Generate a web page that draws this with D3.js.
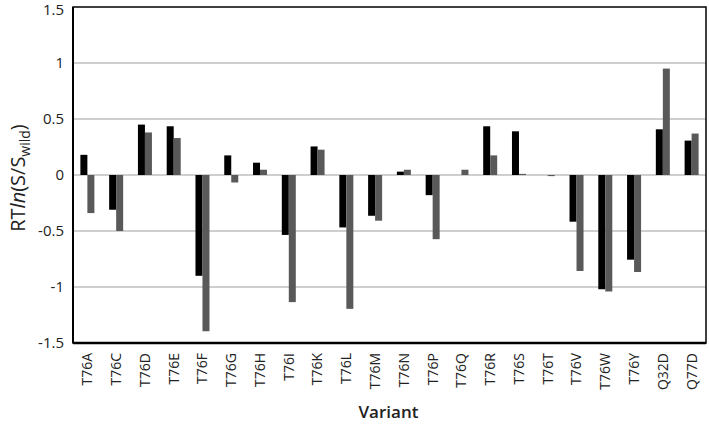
<!DOCTYPE html>
<html><head><meta charset="utf-8">
<script src="https://cdn.jsdelivr.net/npm/d3@7"></script>
<style>body{margin:0;background:#fff;} text{font-family:"Open Sans","Noto Sans",sans-serif;}</style>
</head><body><svg id="c" width="709" height="424"></svg>
<script>
const categories = ["T76A","T76C","T76D","T76E","T76F","T76G","T76H","T76I","T76K","T76L","T76M","T76N","T76P","T76Q","T76R","T76S","T76T","T76V","T76W","T76Y","Q32D","Q77D"];
const series1 = [0.18,-0.31,0.45,0.435,-0.90,0.175,0.11,-0.535,0.255,-0.468,-0.364,0.03,-0.18,0,0.435,0.39,0,-0.417,-1.02,-0.756,0.408,0.307];
const series2 = [-0.34,-0.50,0.38,0.33,-1.395,-0.067,0.047,-1.135,0.226,-1.195,-0.408,0.047,-0.573,0.047,0.175,0.01,-0.01,-0.857,-1.04,-0.866,0.95,0.37];
const yTicks = [-1.5,-1,-0.5,0,0.5,1,1.5];
const colors = ["#000000","#595959"];

const svg = d3.select("#c");
const L=73, R=706, T=7, B=343;
const x = d3.scaleBand().domain(categories).range([L,R]);
const y = d3.scaleLinear().domain([-1.5,1.5]).range([B,T]);

// gridlines
svg.append("g").selectAll("line").data(yTicks.filter(d=>d>-1.5&&d<1.5)).join("line")
  .attr("x1",L).attr("x2",R).attr("y1",d=>y(d)).attr("y2",d=>y(d))
  .attr("stroke","#bfbfbf").attr("stroke-width",1.3);

const bw = 7;
const sub = d3.scaleBand().domain([0,1]).range([0,bw*2]);
[series1,series2].forEach((s,si)=>{
  svg.append("g").selectAll("rect").data(s.map((v,i)=>({c:categories[i],v}))).join("rect")
    .attr("x",d=>x(d.c)+x.bandwidth()/2-bw+sub(si))
    .attr("width",bw)
    .attr("y",d=>Math.min(y(d.v),y(0)))
    .attr("height",d=>Math.max(Math.abs(y(d.v)-y(0)),d.v===0?0:1))
    .attr("fill",colors[si]);
});

// frame
svg.append("rect").attr("x",L).attr("y",T).attr("width",R-L).attr("height",B-T)
  .attr("fill","none").attr("stroke","#000").attr("stroke-width",1.5);
svg.append("line").attr("x1",L).attr("x2",R).attr("y1",B).attr("y2",B).attr("stroke","#000").attr("stroke-width",2.5);
svg.append("line").attr("x1",L).attr("x2",L).attr("y1",T).attr("y2",B).attr("stroke","#000").attr("stroke-width",2);

// y axis labels
const yAxis = d3.axisLeft(y).tickValues(yTicks).tickSize(0).tickPadding(9).tickFormat(d=>String(d));
const ya = svg.append("g").attr("transform",`translate(${L},0)`).call(yAxis);
ya.select(".domain").remove();
ya.selectAll("text").attr("font-size",15).attr("fill","#222").style("font-family","'Open Sans',sans-serif")
  .attr("dy",d=>d===1.5?"0.5em":"0.32em");

// x axis labels
const xAxis = d3.axisBottom(x).tickSize(0).tickPadding(0);
const xa = svg.append("g").attr("transform",`translate(0,${B})`).call(xAxis);
xa.select(".domain").remove();
xa.selectAll("text").attr("font-size",14).attr("fill","#222")
  .attr("transform","rotate(-90)").attr("text-anchor","end")
  .attr("x",-10).attr("y",0).attr("dy","0.35em").style("font-family","'Open Sans',sans-serif");

// axis titles
svg.append("text").attr("x",(L+R)/2-1).attr("y",418).attr("text-anchor","middle")
  .attr("font-size",17).attr("font-weight",600).attr("fill","#222").text("Variant");

const yl = svg.append("text").attr("transform",`translate(25,${(T+B)/2+3}) rotate(-90)`)
  .attr("text-anchor","middle").attr("font-size",20).attr("fill","#222");
yl.append("tspan").text("RT");
yl.append("tspan").attr("font-style","italic").text("ln");
yl.append("tspan").text("(S/S");
yl.append("tspan").attr("font-size",14).attr("dy",5).text("wild");
yl.append("tspan").attr("dy",-5).text(")");
</script></body></html>
